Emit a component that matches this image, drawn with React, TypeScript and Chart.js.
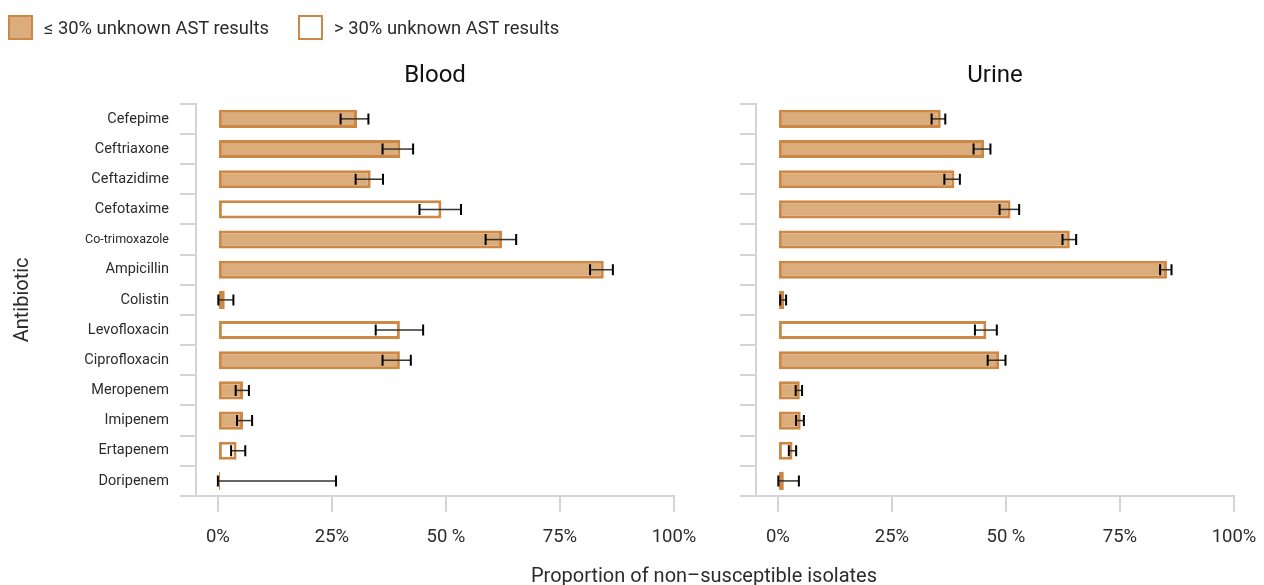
import React, { useEffect, useRef } from "react";
import { Chart, registerables } from "chart.js";

Chart.register(...registerables);

const antibiotics = [
  "Cefepime",
  "Ceftriaxone",
  "Ceftazidime",
  "Cefotaxime",
  "Co-trimoxazole",
  "Ampicillin",
  "Colistin",
  "Levofloxacin",
  "Ciprofloxacin",
  "Meropenem",
  "Imipenem",
  "Ertapenem",
  "Doripenem",
];

const bloodValues = [30.5, 40.0, 33.5, 49.0, 62.3, 84.6, 1.5, 39.9, 39.9, 5.5, 5.5, 4.1, 0.5];
const bloodLower = [26.9, 36.1, 30.2, 44.2, 58.7, 81.6, 0.1, 34.6, 36.1, 3.9, 4.2, 2.9, 0.0];
const bloodUpper = [33.0, 42.8, 36.2, 53.3, 65.4, 86.6, 3.4, 45.0, 42.3, 6.8, 7.5, 6.0, 25.9];
const bloodHighUnknown = [false, false, false, true, false, false, false, true, false, false, false, true, false];

const urineValues = [35.7, 45.2, 38.7, 51.0, 64.0, 85.3, 1.4, 45.7, 48.5, 4.8, 5.0, 3.2, 1.3];
const urineLower = [33.7, 42.9, 36.5, 48.6, 62.4, 83.8, 0.5, 43.2, 46.0, 3.9, 4.0, 2.4, 0.1];
const urineUpper = [36.7, 46.6, 39.9, 52.9, 65.4, 86.3, 1.8, 48.0, 49.9, 5.3, 5.7, 4.0, 4.6];
const urineHighUnknown = [false, false, false, false, false, false, false, true, false, false, false, true, true];

const xTickValues = [0, 25, 50, 75, 100];
const xTickLabels = ["0%", "25%", "50 %", "75%", "100%"];

const legendLabels = ["≤ 30% unknown AST results", "> 30% unknown AST results"];
const panelTitles = ["Blood", "Urine"];
const yAxisTitle = "Antibiotic";
const xAxisTitle = "Proportion of non\u2013susceptible isolates";

const FILL = "#DBAD7C";
const BORDER = "#CC8844";
const AXIS = "#d4d4d4";
const TEXT = "#2b2b2b";
const FONT = "Roboto, 'Noto Sans', sans-serif";

type PanelProps = {
  title: string;
  values: number[];
  lower: number[];
  upper: number[];
  highUnknown: boolean[];
  showLabels: boolean;
  left: number;
  width: number;
  yAxisWidth: number;
  padRight: number;
};

function Panel(p: PanelProps) {
  const ref = useRef<HTMLCanvasElement | null>(null);
  useEffect(() => {
    if (!ref.current) return;
    const errorBars = {
      id: "errorBars",
      afterDatasetsDraw(chart: any) {
        const ctx = chart.ctx;
        const xs = chart.scales.x;
        const ys = chart.scales.y;
        ctx.save();
        for (let i = 0; i < p.values.length; i++) {
          const y = ys.getPixelForValue(i);
          const x1 = xs.getPixelForValue(p.lower[i]);
          const x2 = xs.getPixelForValue(p.upper[i]);
          ctx.strokeStyle = "#333";
          ctx.lineWidth = 1.5;
          ctx.beginPath();
          ctx.moveTo(x1, y);
          ctx.lineTo(x2, y);
          ctx.stroke();
          ctx.strokeStyle = "#000";
          ctx.lineWidth = 2;
          ctx.beginPath();
          ctx.moveTo(x1, y - 5.5);
          ctx.lineTo(x1, y + 5.5);
          ctx.moveTo(x2, y - 5.5);
          ctx.lineTo(x2, y + 5.5);
          ctx.stroke();
        }
        ctx.restore();
      },
    };
    const chart = new Chart(ref.current, {
      type: "bar",
      data: {
        labels: antibiotics,
        datasets: [
          {
            data: p.values,
            backgroundColor: p.highUnknown.map((h) => (h ? "#ffffff" : FILL)),
            borderColor: BORDER,
            borderWidth: 3,
            borderSkipped: false,
            barPercentage: 0.6,
            categoryPercentage: 1,
          },
        ],
      },
      plugins: [errorBars],
      options: {
        indexAxis: "y",
        responsive: false,
        animation: false,
        layout: { padding: { left: 0, right: p.padRight, top: 0, bottom: 39 } },
        plugins: {
          legend: { display: false },
          tooltip: { enabled: false },
          title: {
            display: true,
            text: p.title,
            fullSize: false,
            color: "#111",
            font: { family: FONT, size: 24, weight: "normal" },
            padding: { top: 62, bottom: 13 },
          },
        },
        scales: {
          x: {
            type: "linear",
            min: -4.8,
            max: 100,
            afterBuildTicks: (scale: any) => {
              scale.ticks = xTickValues.map((v) => ({ value: v }));
            },
            afterFit: (scale: any) => {
              scale.height = 50;
              scale.paddingLeft = 0;
              scale.paddingRight = 0;
            },
            ticks: {
              autoSkip: false,
              maxRotation: 0,
              padding: 14,
              color: TEXT,
              font: { family: FONT, size: 18.5 },
              callback: (v: any) => {
                const i = xTickValues.indexOf(Number(v));
                return i >= 0 ? xTickLabels[i] : "";
              },
            },
            grid: {
              drawOnChartArea: false,
              drawTicks: true,
              tickLength: 16,
              color: AXIS,
              lineWidth: 2,
            },
            border: { display: true, color: AXIS, width: 2 },
          },
          y: {
            type: "category",
            afterFit: (scale: any) => {
              scale.width = p.yAxisWidth;
            },
            title: {
              display: p.showLabels,
              text: yAxisTitle,
              color: TEXT,
              font: { family: FONT, size: 20 },
              padding: { top: 11, bottom: 0 },
            },
            ticks: {
              display: p.showLabels,
              padding: 11,
              color: TEXT,
              autoSkip: false,
              font: (c: any) => ({ family: FONT, size: c.index === 4 ? 12.5 : 14.5 }),
            },
            grid: {
              offset: true,
              drawOnChartArea: false,
              drawTicks: true,
              tickLength: 16,
              color: AXIS,
              lineWidth: 2,
            },
            border: { display: true, color: AXIS, width: 2 },
          },
        },
      },
    } as any);
    return () => chart.destroy();
  }, []);
  return (
    <canvas
      ref={ref}
      width={p.width}
      height={585}
      style={{ position: "absolute", left: p.left, top: 0, width: p.width, height: 585, display: "block" }}
    />
  );
}

function LegendItem({ left, filled, label }: { left: number; filled: boolean; label: string }) {
  return (
    <div style={{ position: "absolute", left, top: 14, height: 26, display: "flex", alignItems: "center" }}>
      <div
        style={{
          width: 21,
          height: 21,
          border: `2.5px solid ${BORDER}`,
          background: filled ? FILL : "#fff",
        }}
      />
      <span style={{ marginLeft: 11, fontFamily: FONT, fontSize: 18.4, color: TEXT, whiteSpace: "nowrap" }}>{label}</span>
    </div>
  );
}

export default function App() {
  return (
    <div style={{ position: "absolute", left: 0, top: 0, width: 1264, height: 585, background: "#fff", overflow: "hidden" }}>
      <Panel
        title={panelTitles[0]}
        values={bloodValues}
        lower={bloodLower}
        upper={bloodUpper}
        highUnknown={bloodHighUnknown}
        showLabels={true}
        left={0}
        width={720}
        yAxisWidth={196}
        padRight={46}
      />
      <Panel
        title={panelTitles[1]}
        values={urineValues}
        lower={urineLower}
        upper={urineUpper}
        highUnknown={urineHighUnknown}
        showLabels={false}
        left={720}
        width={544}
        yAxisWidth={36}
        padRight={30}
      />
      <LegendItem left={8} filled={true} label={legendLabels[0]} />
      <LegendItem left={298} filled={false} label={legendLabels[1]} />
      <div
        style={{
          position: "absolute",
          left: 704,
          top: 563,
          transform: "translateX(-50%)",
          fontFamily: FONT,
          fontSize: 20,
          lineHeight: "24px",
          color: TEXT,
          whiteSpace: "nowrap",
        }}
      >
        {xAxisTitle}
      </div>
    </div>
  );
}
